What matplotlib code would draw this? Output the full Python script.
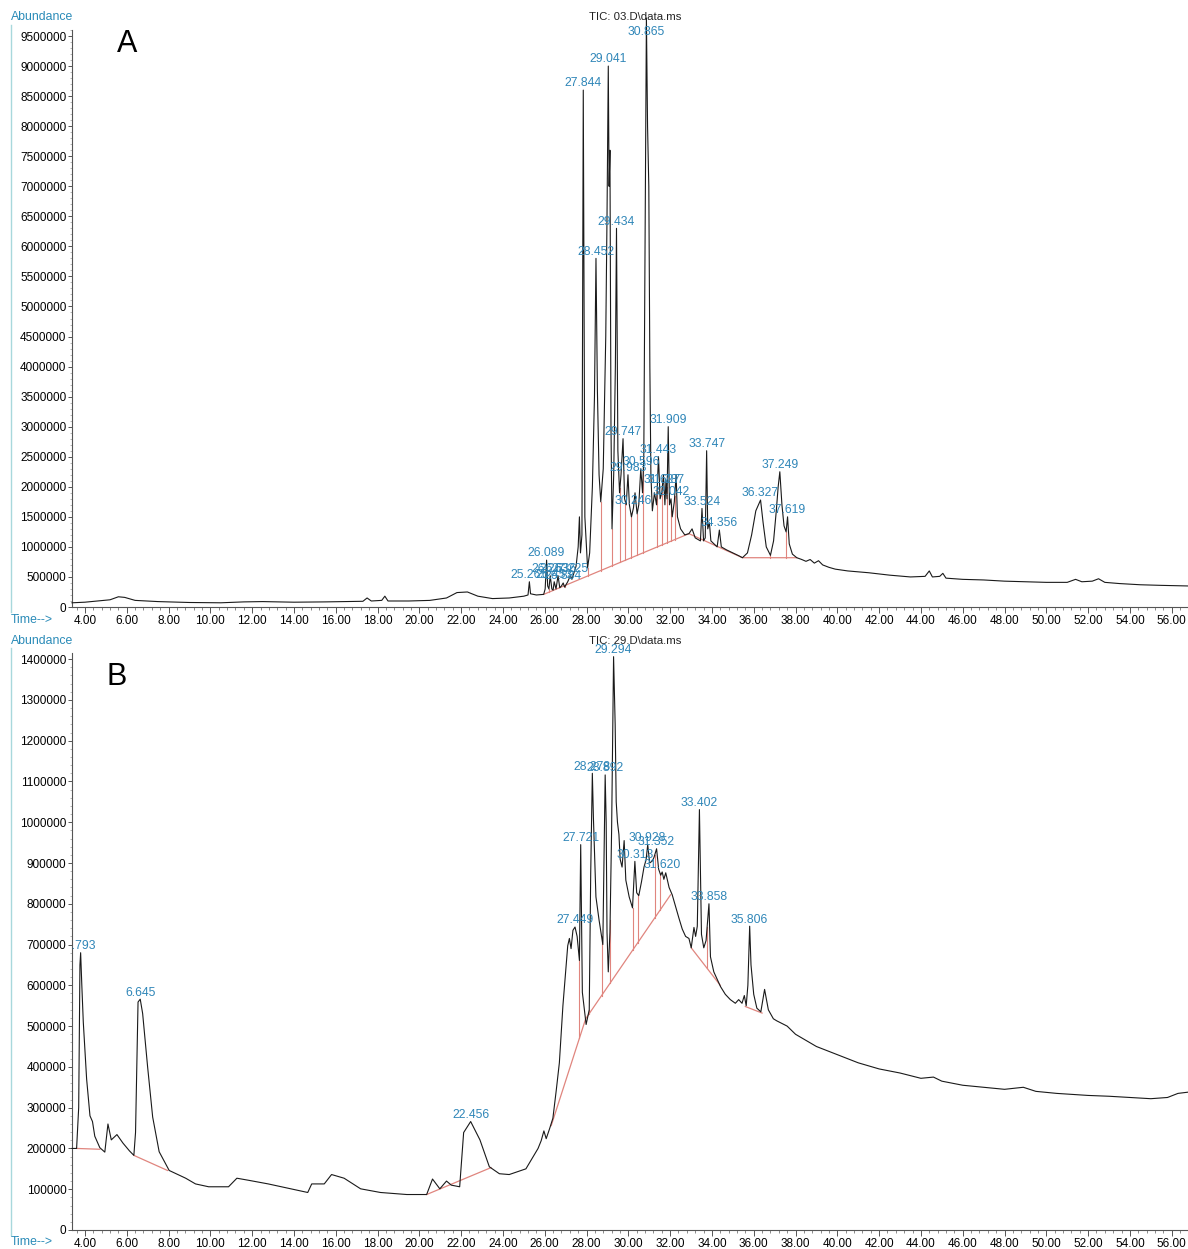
import numpy as np
import matplotlib.pyplot as plt
from matplotlib.ticker import MultipleLocator, FormatStrFormatter

plt.rcParams['font.family'] = ['Liberation Sans', 'DejaVu Sans']

W, H = 1188, 1249
BLUE = '#2f86b8'
TEAL = '#2a8bb8'
RED = '#e0857e'

# ---------------- panel A : TIC 03.D ----------------
a_time = [3.38, 4.0, 4.6, 5.2, 5.6, 5.9, 6.4, 7.5, 9.0, 10.5, 11.6, 12.5, 14.0, 15.5,
          17.3, 17.5, 17.7, 18.2, 18.35, 18.5, 19.5, 20.5, 21.3, 21.8, 22.3, 22.8, 23.5,
          24.3, 25.0, 25.2, 25.265, 25.32, 25.6, 25.95, 26.02, 26.089, 26.14, 26.2,
          26.263, 26.34, 26.4, 26.453, 26.54, 26.636, 26.72, 26.8, 26.884, 26.95, 27.1,
          27.225, 27.3, 27.5, 27.6, 27.66, 27.71, 27.78, 27.844, 27.92, 28.05, 28.15,
          28.28, 28.38, 28.452, 28.52, 28.6, 28.68, 28.8, 28.92, 28.98, 29.041, 29.08,
          29.12, 29.17, 29.22, 29.3, 29.38, 29.434, 29.5, 29.58, 29.65, 29.747, 29.82,
          29.9, 29.983, 30.05, 30.15, 30.246, 30.32, 30.42, 30.5, 30.596, 30.68, 30.74,
          30.8, 30.865, 30.92, 30.98, 31.03, 31.08, 31.15, 31.25, 31.35, 31.443, 31.52,
          31.6, 31.68, 31.75, 31.8, 31.85, 31.909, 31.97, 32.042, 32.1, 32.2, 32.287,
          32.35, 32.5, 32.7, 32.9, 33.05, 33.2, 33.35, 33.45, 33.524, 33.6, 33.68,
          33.747, 33.8, 33.88, 33.95, 34.1, 34.25, 34.356, 34.45, 34.7, 35.0, 35.3,
          35.46, 35.7, 35.9, 36.1, 36.327, 36.45, 36.6, 36.8, 36.95, 37.08, 37.17,
          37.249, 37.35, 37.45, 37.55, 37.619, 37.7, 37.85, 38.06, 38.3, 38.5, 38.7,
          38.9, 39.1, 39.3, 39.6, 39.9, 40.5, 41.5, 42.5, 43.5, 44.2, 44.4, 44.55, 44.9,
          45.05, 45.2, 46.0, 47.0, 48.0, 49.0, 50.0, 51.0, 51.4, 51.7, 52.2, 52.5, 52.8,
          53.5, 54.5, 55.5, 56.78]
a_abund = [70000, 80000, 100000, 120000, 170000, 160000, 110000, 90000, 75000, 70000,
           85000, 90000, 80000, 85000, 95000, 150000, 100000, 110000, 180000, 100000,
           100000, 110000, 150000, 240000, 250000, 180000, 140000, 150000, 180000, 200000,
           420000, 220000, 200000, 210000, 300000, 780000, 350000, 300000, 520000, 300000,
           280000, 420000, 300000, 520000, 320000, 350000, 400000, 330000, 420000, 520000,
           460000, 680000, 1000000, 1500000, 900000, 1200000, 8600000, 1500000, 650000,
           900000, 2000000, 3500000, 5800000, 3600000, 2200000, 1750000, 2300000,
           4500000, 6500000, 9000000, 7000000, 7600000, 3000000, 1300000, 2200000,
           4000000, 6300000, 2600000, 1900000, 2200000, 2800000, 1800000, 1700000,
           2200000, 1700000, 1500000, 1650000, 1900000, 1550000, 1700000, 2300000,
           1900000, 2500000, 6000000, 9800000, 8000000, 7000000, 4000000, 2200000,
           1600000, 1900000, 1700000, 2500000, 1800000, 1900000, 2200000, 1700000,
           2100000, 1800000, 3000000, 1700000, 1800000, 1500000, 1750000, 2200000,
           1500000, 1300000, 1200000, 1220000, 1300000, 1150000, 1120000, 1100000,
           1640000, 1100000, 1150000, 2600000, 1300000, 1400000, 1100000, 1050000,
           1000000, 1280000, 1000000, 950000, 900000, 850000, 820000, 900000, 1200000,
           1600000, 1780000, 1400000, 1000000, 860000, 1100000, 1600000, 2000000,
           2250000, 1700000, 1350000, 1250000, 1500000, 1050000, 880000, 820000, 790000,
           760000, 790000, 730000, 770000, 700000, 660000, 630000, 600000, 570000,
           530000, 500000, 510000, 600000, 500000, 510000, 560000, 480000, 460000,
           450000, 430000, 420000, 410000, 410000, 460000, 420000, 430000, 470000,
           410000, 390000, 370000, 360000, 350000]
a_base_t = [[25.95, 32.9, 35.46, 38.06]]
a_base_y = [[210000, 1220000, 820000, 820000]]
a_drops = [26.2, 26.4, 26.72, 26.95, 28.05, 28.68, 29.22, 29.6, 29.86, 30.12, 30.42,
           30.72, 31.38, 31.62, 31.86, 32.06, 32.22, 36.8, 37.55]
a_peaks = ['25.265', '26.089', '26.263', '26.453', '26.636', '26.884', '27.225', '27.844',
           '28.452', '29.041', '29.434', '29.747', '29.983', '30.246', '30.596', '30.865',
           '31.443', '31.627', '31.787', '31.909', '32.042', '33.524', '33.747', '34.356',
           '36.327', '37.249', '37.619']

# ---------------- panel B : TIC 29.D ----------------
b_time = [3.38, 3.6, 3.7, 3.76, 3.793, 3.85, 3.92, 4.08, 4.24, 4.36, 4.47, 4.71, 4.95,
          5.1, 5.26, 5.53, 5.82, 6.13, 6.34, 6.42, 6.54, 6.645, 6.76, 7.0, 7.24, 7.55,
          8.03, 8.82, 9.29, 9.92, 10.87, 11.27, 11.82, 12.77, 14.03, 14.66, 14.85, 15.45,
          15.8, 16.4, 17.19, 18.14, 19.4, 20.35, 20.63, 20.98, 21.3, 21.53, 21.93, 22.12,
          22.456, 22.9, 23.35, 23.83, 24.3, 25.1, 25.68, 25.83, 25.96, 26.07, 26.23,
          26.39, 26.55, 26.7, 26.87, 27.1, 27.18, 27.26, 27.35, 27.449, 27.55, 27.66,
          27.721, 27.8, 27.98, 28.13, 28.2, 28.278, 28.33, 28.4, 28.45, 28.6, 28.69,
          28.78, 28.892, 28.94, 28.98, 29.04, 29.12, 29.2, 29.294, 29.37, 29.42, 29.48,
          29.55, 29.61, 29.7, 29.8, 29.88, 30.04, 30.2, 30.313, 30.4, 30.5, 30.63, 30.75,
          30.85, 30.928, 31.02, 31.15, 31.23, 31.352, 31.45, 31.55, 31.62, 31.7, 31.79,
          31.95, 32.1, 32.26, 32.42, 32.58, 32.74, 32.9, 33.01, 33.14, 33.22, 33.3,
          33.402, 33.5, 33.61, 33.72, 33.858, 33.93, 34.09, 34.25, 34.41, 34.64, 34.88,
          35.12, 35.28, 35.44, 35.55, 35.64, 35.72, 35.806, 35.87, 36.0, 36.15, 36.34,
          36.52, 36.7, 36.94, 37.1, 37.6, 38.0, 39.0, 40.0, 41.0, 42.0, 43.0, 44.0,
          44.6, 45.0, 46.0, 47.0, 48.0, 48.9, 49.5, 50.5, 52.0, 53.0, 54.0, 55.0, 55.8,
          56.3, 56.78]
b_abund = [200000, 200000, 300000, 650000, 680000, 600000, 510000, 370000, 280000,
           266000, 230000, 202000, 191000, 260000, 221000, 234000, 213000, 194000,
           183000, 239000, 559000, 566000, 531000, 399000, 277000, 192000, 146000,
           127000, 113000, 106000, 106000, 127000, 122000, 113000, 99000, 92000, 113000,
           113000, 136000, 127000, 101000, 92000, 87000, 87000, 125000, 101000, 120000,
           110000, 106000, 239000, 266000, 221000, 155000, 138000, 136000, 150000,
           200000, 219000, 243000, 224000, 248000, 274000, 342000, 410000, 550000,
           697000, 715000, 690000, 735000, 743000, 720000, 661000, 945000, 583000,
           504000, 540000, 875000, 1120000, 1010000, 900000, 817000, 760000, 730000,
           700000, 1116000, 1000000, 730000, 633000, 730000, 980000, 1406000, 1240000,
           1050000, 1000000, 970000, 909000, 890000, 955000, 858000, 817000, 790000,
           904000, 827000, 820000, 854000, 890000, 908000, 945000, 900000, 905000,
           914000, 935000, 885000, 870000, 878000, 860000, 876000, 840000, 822000,
           793000, 765000, 738000, 720000, 715000, 692000, 742000, 720000, 745000,
           1031000, 725000, 692000, 710000, 800000, 670000, 633000, 615000, 597000,
           578000, 565000, 556000, 565000, 556000, 575000, 550000, 600000, 745000,
           650000, 578000, 544000, 535000, 590000, 540000, 518000, 513000, 500000,
           480000, 450000, 430000, 410000, 395000, 385000, 372000, 375000, 365000,
           355000, 350000, 345000, 350000, 340000, 335000, 330000, 328000, 325000,
           322000, 325000, 335000, 338000]
b_base_t = [[3.6, 4.71], [6.34, 7.95], [20.35, 23.43], [26.31, 27.96, 32.02],
            [33.01, 34.4], [35.6, 36.4]]
b_base_y = [[200000, 198000], [183000, 146000], [87000, 153000],
            [256000, 518000, 822000], [692000, 600000], [548000, 532000]]
b_drops = [27.66, 28.13, 28.72, 29.13, 30.2, 30.44, 31.26, 31.52, 33.77]
b_peaks = ['3.793', '6.645', '22.456', '27.449', '27.721', '28.278', '28.892', '29.294',
           '30.313', '30.928', '31.352', '31.620', '33.402', '33.858', '35.806']

XMIN, XMAX = 3.38, 56.78


def draw_panel(ax, t, y, base_t, base_y, drops, peaks, ytop, ystep, yminor, cap):
    ax.plot(t, y, color='#1a1a1a', lw=0.8, clip_on=False, zorder=3)
    for bt, by in zip(base_t, base_y):
        ax.plot(bt, by, color=RED, lw=0.9, zorder=2)
    for d in drops:
        for bt, by in zip(base_t, base_y):
            if bt[0] <= d <= bt[-1]:
                b = np.interp(d, bt, by)
                ax.plot([d, d], [b, np.interp(d, t, y)], color=RED, lw=0.8, zorder=2)
    for p in peaks:
        x = float(p)
        h = min(np.interp(x, t, y), cap)
        ax.annotate(p, (x, h), xytext=(0, 0.5), textcoords='offset points',
                    ha='center', va='bottom', color=BLUE, fontsize=8.7,
                    clip_on=(x < XMIN + 1), zorder=4)

    ax.set_xlim(XMIN, XMAX)
    ax.set_ylim(0, ytop)
    ax.xaxis.set_major_locator(MultipleLocator(2))
    ax.xaxis.set_minor_locator(MultipleLocator(0.4))
    ax.xaxis.set_major_formatter(FormatStrFormatter('%.2f'))
    ax.yaxis.set_major_locator(MultipleLocator(ystep))
    ax.yaxis.set_minor_locator(MultipleLocator(yminor))
    ax.yaxis.set_major_formatter(FormatStrFormatter('%d'))
    for s in ('top', 'right'):
        ax.spines[s].set_visible(False)
    for s in ('left', 'bottom'):
        ax.spines[s].set_color('#555555')
        ax.spines[s].set_linewidth(0.8)
    ax.tick_params(axis='x', which='major', length=4, width=0.7, color='#555555',
                   labelsize=8.5, pad=2)
    ax.tick_params(axis='x', which='minor', length=2.5, width=0.6, color='#777777')
    ax.tick_params(axis='y', which='major', length=3, width=0.7, color='#555555',
                   labelsize=8.5, pad=1)
    ax.tick_params(axis='y', which='minor', length=1.5, width=0.5, color='#999999')
    ax.patch.set_alpha(0)


fig = plt.figure(figsize=(W / 100, H / 100), dpi=100)

axA = fig.add_axes([72 / W, 1 - 607 / H, 1 - 72 / W, (607 - 30) / H])
draw_panel(axA, a_time, a_abund, a_base_t, a_base_y, a_drops, a_peaks,
           9.6e6, 500000, 100000, 9.45e6)

axB = fig.add_axes([72 / W, 1 - 1230 / H, 1 - 72 / W, (1230 - 653) / H])
draw_panel(axB, b_time, b_abund, b_base_t, b_base_y, b_drops, b_peaks,
           1.415e6, 100000, 20000, 1.45e6)

# Chemstation-style frame texts
for ytitle, ytime, name, letter, ly, lx in [(17, 620, 'TIC: 03.D\\data.ms', 'A', 44, 127),
                                             (641, 1242, 'TIC: 29.D\\data.ms', 'B', 677, 117)]:
    fig.text(11 / W, 1 - ytitle / H, 'Abundance', color=TEAL, fontsize=8.8,
             ha='left', va='center')
    fig.text(11 / W, 1 - ytime / H, 'Time-->', color=TEAL, fontsize=8.8,
             ha='left', va='center')
    fig.text(635 / W, 1 - ytitle / H, name, color='#222222', fontsize=8.2,
             ha='center', va='center')
    fig.text(lx / W, 1 - ly / H, letter, color='black', fontsize=22,
             ha='center', va='center')

fig.add_artist(plt.Line2D([11 / W, 11 / W], [1 - 612 / H, 1 - 25 / H],
                          color='#a8d8dc', lw=1))
fig.add_artist(plt.Line2D([11 / W, 11 / W], [1 - 1235 / H, 1 - 648 / H],
                          color='#a8d8dc', lw=1))

fig.savefig('out.png', dpi=100)
